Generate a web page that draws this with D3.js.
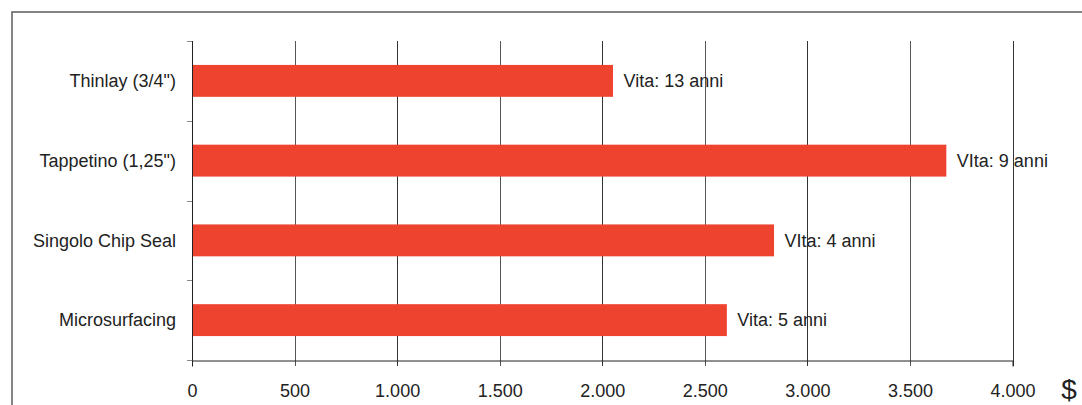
<!DOCTYPE html>
<html>
<head>
<meta charset="utf-8">
<script src="https://cdn.jsdelivr.net/npm/d3@7"></script>
<style>
  body { margin: 0; background: #fff; }
  svg { display: block; font-family: "Liberation Sans", Arial, sans-serif; }
</style>
</head>
<body>
<svg id="chart" width="1082" height="405"></svg>
<script>
// dati del grafico
const categories = ["Thinlay (3/4\")", "Tappetino (1,25\")", "Singolo Chip Seal", "Microsurfacing"];
const costs = [2050, 3675, 2835, 2605];
const lifeLabels = ["Vita: 13 anni", "VIta: 9 anni", "VIta: 4 anni", "Vita: 5 anni"];
const xTicks = [0, 500, 1000, 1500, 2000, 2500, 3000, 3500, 4000];
const xTickLabels = ["0", "500", "1.000", "1.500", "2.000", "2.500", "3.000", "3.500", "4.000"];

const svg = d3.select("#chart");

// cornice esterna (tagliata a destra e in basso)
svg.append("rect")
  .attr("x", 12).attr("y", 12)
  .attr("width", 1100).attr("height", 420)
  .attr("fill", "none")
  .attr("stroke", "#666")
  .attr("stroke-width", 1.6);

const plotLeft = 192, plotRight = 1012.5, plotTop = 41, plotBottom = 360;
const fontSize = 18;

const x = d3.scaleLinear().domain([0, 4000]).range([plotLeft, plotRight]);
const y = d3.scaleBand().domain(categories).range([plotTop, plotBottom]).paddingInner(0.6).paddingOuter(0.3);

// griglia verticale
svg.append("g")
  .selectAll("line")
  .data(xTicks)
  .join("line")
  .attr("x1", d => Math.round(x(d)) + 0.5)
  .attr("x2", d => Math.round(x(d)) + 0.5)
  .attr("y1", plotTop)
  .attr("y2", plotBottom + 6)
  .attr("stroke", (d, i) => i % 2 ? "#555" : "#333")
  .attr("stroke-width", 1);

// barre
svg.append("g")
  .selectAll("rect")
  .data(categories)
  .join("rect")
  .attr("x", x(0) + 0.5)
  .attr("y", d => y(d))
  .attr("width", (d, i) => x(costs[i]) - x(0))
  .attr("height", y.bandwidth())
  .attr("fill", "#ee432f");

// asse x
const xAxis = svg.append("g")
  .attr("transform", `translate(0,${plotBottom + 0.5})`)
  .call(d3.axisBottom(x).tickValues(xTicks).tickFormat((d, i) => xTickLabels[i]).tickSize(6).tickPadding(18));
xAxis.select(".domain").attr("stroke", "#222");
xAxis.selectAll(".tick line").attr("stroke", "none");
xAxis.selectAll("text").attr("font-size", fontSize).attr("fill", "#222").attr("font-family", "Liberation Sans, Arial, sans-serif");

// asse y
const bandEdges = d3.range(categories.length + 1).map(i => plotTop + i * (plotBottom - plotTop) / categories.length);
svg.append("line")
  .attr("x1", plotLeft + 0.5).attr("x2", plotLeft + 0.5)
  .attr("y1", plotTop).attr("y2", plotBottom)
  .attr("stroke", "#222");
svg.append("g")
  .selectAll("line")
  .data(bandEdges)
  .join("line")
  .attr("x1", plotLeft - 5).attr("x2", plotLeft)
  .attr("y1", d => Math.round(d) + 0.5)
  .attr("y2", d => Math.round(d) + 0.5)
  .attr("stroke", "#888");

// etichette categorie
svg.append("g")
  .selectAll("text")
  .data(categories)
  .join("text")
  .attr("x", 176)
  .attr("y", d => y(d) + y.bandwidth() / 2)
  .attr("dy", "0.35em")
  .attr("text-anchor", "end")
  .attr("font-size", fontSize)
  .attr("fill", "#222")
  .text(d => d);

// etichette durata
svg.append("g")
  .selectAll("text")
  .data(categories)
  .join("text")
  .attr("x", (d, i) => x(costs[i]) + 11)
  .attr("y", d => y(d) + y.bandwidth() / 2)
  .attr("dy", "0.35em")
  .attr("font-size", fontSize)
  .attr("fill", "#222")
  .text((d, i) => lifeLabels[i]);

// unità
svg.append("text")
  .attr("x", 1069).attr("y", 389)
  .attr("dy", "0.35em")
  .attr("text-anchor", "middle")
  .attr("font-size", 28)
  .attr("fill", "#222")
  .text("$");
</script>
</body>
</html>
